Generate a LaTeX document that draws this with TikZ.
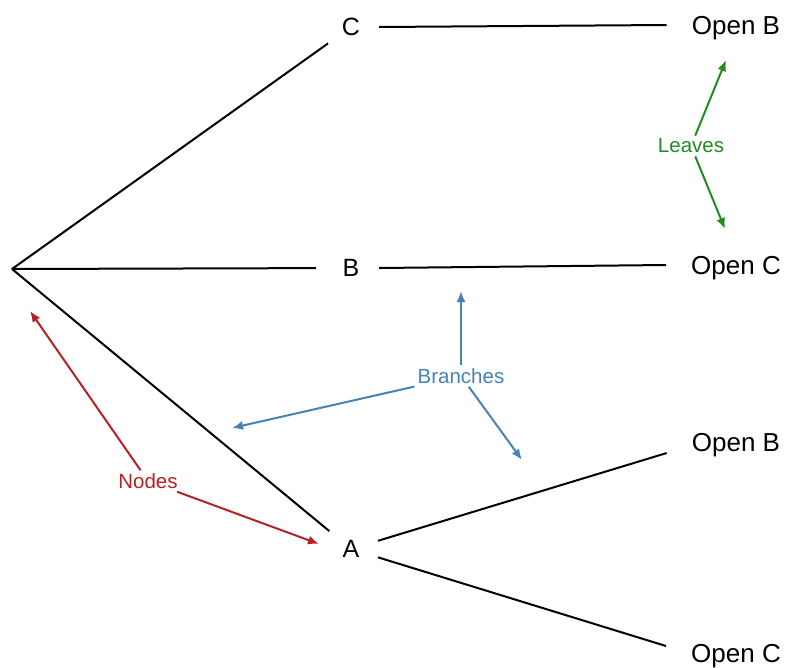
\documentclass[tikz,border=0pt]{standalone}
\usepackage{fontspec}
\setmainfont{Liberation Sans}
\usetikzlibrary{arrows.meta}
\definecolor{nred}{RGB}{180,34,38}
\definecolor{nblue}{RGB}{70,130,180}
\definecolor{ngreen}{RGB}{34,139,34}
\tikzset{
  mid/.style={circle,minimum size=56pt,inner sep=0pt,font=\fontsize{25}{28}\selectfont},
  leaf/.style={rectangle,inner xsep=25pt,inner ysep=0pt,minimum height=42pt,text height=18pt,text depth=0pt,font=\fontsize{26}{30}\selectfont},
  branch/.style={draw=black,line width=2pt},
  note/.style={inner sep=3pt,font=\fontsize{20.5}{24}\selectfont},
  notearrow/.style={line width=2pt,-{Latex[length=11pt,width=9pt]}}
}
\begin{document}
\begin{tikzpicture}[x=1pt,y=-1pt]
\useasboundingbox (0,0) rectangle (787,667);
\coordinate (root) at (12,269);
\node[mid] (C) at (351,27) {C};
\node[mid] (B) at (351,268) {B};
\node[mid] (A) at (351,549) {A};
\node[leaf] (CB) at (736,25) {Open B};
\node[leaf] (BC) at (736,265) {Open C};
\node[leaf] (AB) at (736,442) {Open B};
\node[leaf] (AC) at (736,653) {Open C};
\draw[branch] (root) -- (C);
\draw[branch,shorten >=7pt] (root) -- (B);
\draw[branch] (root) -- (A);
\draw[branch] (C.east) -- (CB.west);
\draw[branch] (B.east) -- (BC.west);
\draw[branch] (A) -- ([yshift=-11pt]AB.west);
\draw[branch] (A) -- ([yshift=7pt]AC.west);
% annotations
\node[note,text=ngreen] (lv) at (691,146) {Leaves};
\coordinate (lv1) at (726,60);
\coordinate (lv2) at (725,229);
\draw[notearrow,ngreen] (lv) -- (lv1);
\draw[notearrow,ngreen] (lv) -- (lv2);
\node[note,text=nblue] (br) at (461,376) {Branches};
\coordinate (br1) at (461,291);
\coordinate (br2) at (232,428);
\coordinate (br3) at (522,460);
\draw[notearrow,nblue] (br) -- (br1);
\draw[notearrow,nblue] (br) -- (br2);
\draw[notearrow,nblue] (br) -- (br3);
\node[note,text=nred] (nd) at (148,481) {Nodes};
\coordinate (nd1) at (30,311);
\coordinate (nd2) at (319,544);
\draw[notearrow,nred] (nd) -- (nd1);
\draw[notearrow,nred] (nd) -- (nd2);
\end{tikzpicture}
\end{document}
